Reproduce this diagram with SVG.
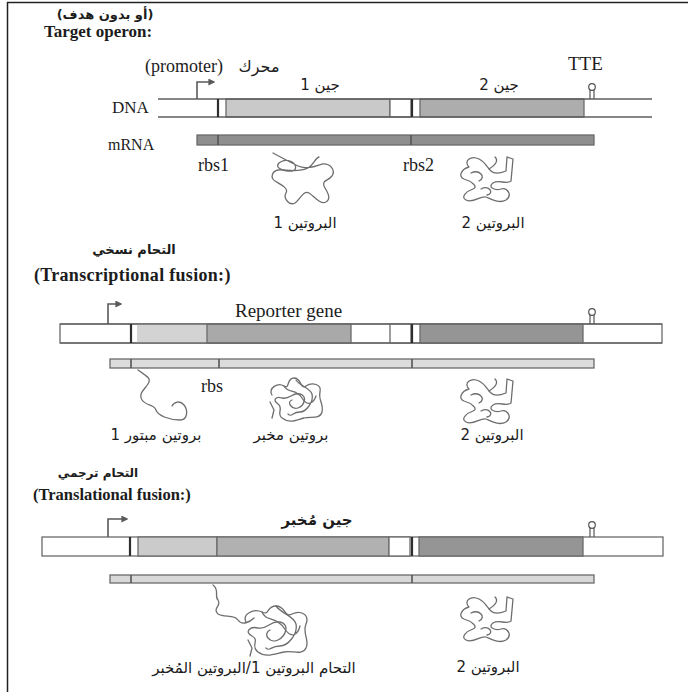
<svg xmlns="http://www.w3.org/2000/svg" xmlns:xlink="http://www.w3.org/1999/xlink" width="688" height="692" viewBox="0 0 688 692">
  <style>
    .lat { font-family: "Liberation Serif", "DejaVu Sans", serif; fill: #1c1c1c; }
    .bold { font-weight: bold; }
    .ar { font-family: "DejaVu Sans", sans-serif; fill: #1c1c1c; direction: rtl; text-anchor: middle; }
    .strand { stroke: #5e5e5e; stroke-width: 1.4; fill: none; }
    .box { stroke: #6a6a6a; stroke-width: 1.3; }
    .bar { stroke: #2e2e2e; stroke-width: 2.2; }
    .seg { stroke: #555; stroke-width: 1.6; }
    .prot { fill: none; stroke: #6e6e6e; stroke-width: 1.3; stroke-linejoin: round; stroke-linecap: round; }
    .prom { fill: none; stroke: #5a5a5a; stroke-width: 1.6; }
    .term { fill: none; stroke: #555; stroke-width: 1.2; }
  </style>
  <defs>
    <marker id="arrowhead" viewBox="0 0 10 10" refX="8" refY="5" markerWidth="7" markerHeight="7" orient="auto" markerUnits="userSpaceOnUse">
      <path d="M0,0 L10,5 L0,10 Z" fill="#5a5a5a"/>
    </marker>
    <!-- hairpin terminator, drawn with its base at (0,0) -->
    <g id="terminator">
      <line class="term" x1="-2" y1="0" x2="-2" y2="-9"/>
      <line class="term" x1="2" y1="0" x2="2" y2="-9"/>
      <circle class="term" cx="0" cy="-12" r="3.3" fill="#fff"/>
    </g>
    <!-- folded protein 2, local origin at its top-left corner -->
    <g id="protein2">
      <path class="prot" d="M10,11 C4,5 12,-1 20,3 C26,6 28,11 32,15 C36,19 42,17 47,15 L48,1 L54,3 L52,25 C47,29 40,23 34,27 C28,31 36,35 42,33 C48,31 54,39 47,44 C40,48 32,43 27,41 C22,39 14,48 7,44 C1,41 8,35 14,33 C20,31 12,25 5,23 C-1,21 2,13 10,11 Z"/>
      <path class="prot" d="M12,17 C20,13 28,21 20,25 M22,33 C30,29 36,37 28,39 M30,13 C36,9 40,5 36,1"/>
    </g>
  </defs>

  <!-- frame -->
  <g id="frame">
    <line x1="7" y1="2.5" x2="688" y2="2.5" stroke="#222" stroke-width="1.5"/>
    <line x1="7.5" y1="2" x2="7.5" y2="692" stroke="#222" stroke-width="1.5"/>
  </g>

  <!-- ===== Target operon ===== -->
  <g id="operon-title">
    <text class="ar bold" x="105" y="19" font-size="13">(أو بدون هدف)</text>
    <text class="lat bold" x="44" y="37" font-size="17">Target operon:</text>
  </g>

  <g id="operon-dna">
    <text class="lat" x="145" y="72" font-size="18">(promoter)</text>
    <text class="ar" x="259" y="72" font-size="16">محرك</text>
    <text class="ar" x="320" y="90" font-size="15">جين 1</text>
    <text class="ar" x="499" y="90" font-size="15">جين 2</text>
    <text class="lat" x="568" y="70" font-size="19">TTE</text>
    <text class="lat" x="112" y="113" font-size="17">DNA</text>
    <rect class="box" x="226" y="99" width="164" height="18" fill="#c9c9c9"/>
    <rect class="box" x="390" y="99" width="21" height="18" fill="#fff"/>
    <rect class="box" x="420" y="99" width="164" height="18" fill="#adadad"/>
    <line class="strand" x1="158" y1="99" x2="652" y2="99"/>
    <line class="strand" x1="158" y1="117" x2="652" y2="117"/>
    <line class="bar" x1="218" y1="99" x2="218" y2="117"/>
    <line class="bar" x1="412" y1="99" x2="412" y2="117"/>
    <use xlink:href="#terminator" href="#terminator" x="592" y="99"/>
  </g>

  <g id="operon-mrna">
    <text class="lat" x="108" y="150" font-size="16">mRNA</text>
    <rect class="box" x="197" y="135" width="397" height="10" fill="#8e8e8e"/>
    <line class="seg" x1="218" y1="135" x2="218" y2="145"/>
    <line class="seg" x1="411" y1="135" x2="411" y2="145"/>
    <text class="lat" x="198" y="171" font-size="18">rbs1</text>
    <text class="lat" x="403" y="171" font-size="18">rbs2</text>
  </g>

  <g id="operon-protein1">
    <path class="prot" d="M273,153 C282,158 290,162 298,166 C306,170 316,166 322,164 C330,163 336,170 332,176 C328,181 322,180 324,186 C327,192 332,198 326,202 C320,205 314,196 309,193 C303,190 300,200 295,203 C289,206 283,198 286,193 C289,188 280,184 275,181 C270,178 272,171 278,170 C284,169 286,172 292,171 C298,170 296,163 290,161 C284,159 276,163 278,167 C280,171 300,172 308,168 C314,165 315,158 319,157"/>
    <text class="ar" x="305" y="228" font-size="15">البروتين 1</text>
  </g>

  <g id="operon-protein2">
    <use xlink:href="#protein2" href="#protein2" x="459" y="156"/>
    <text class="ar" x="493" y="228" font-size="15">البروتين 2</text>
  </g>

  <!-- ===== Transcriptional fusion ===== -->
  <g id="transcriptional-title">
    <text class="ar bold" x="134" y="254" font-size="13">التحام نسخي</text>
    <text class="lat bold" x="34" y="281" font-size="18" letter-spacing="0.3">(Transcriptional fusion:)</text>
  </g>

  <g id="transcriptional-dna">
    <text class="lat" x="235" y="317" font-size="19">Reporter gene</text>
    <rect class="box" x="60" y="324" width="602" height="19" fill="#fff"/>
    <rect x="137" y="324" width="70" height="19" fill="#d3d3d3"/>
    <rect class="box" x="207" y="324" width="144" height="19" fill="#a9a9a9"/>
    <rect class="box" x="390" y="324" width="21" height="19" fill="#fff"/>
    <rect class="box" x="420" y="324" width="163" height="19" fill="#959595"/>
    <line class="box" x1="60" y1="324" x2="662" y2="324" fill="none"/>
    <line class="box" x1="60" y1="343" x2="662" y2="343" fill="none"/>
    <line class="bar" x1="131" y1="324" x2="131" y2="343"/>
    <line class="bar" x1="412" y1="324" x2="412" y2="343"/>
    <use xlink:href="#terminator" href="#terminator" x="592" y="324"/>
  </g>

  <g id="transcriptional-mrna">
    <rect class="box" x="110" y="359" width="484" height="9" fill="#dcdcdc"/>
    <line class="seg" x1="131" y1="359" x2="131" y2="368"/>
    <line class="seg" x1="219" y1="359" x2="219" y2="368"/>
    <line class="seg" x1="412" y1="359" x2="412" y2="368"/>
    <text class="lat" x="201" y="392" font-size="18">rbs</text>
  </g>

  <g id="truncated-protein1">
    <path class="prot" d="M138,370 C146,376 152,378 148,384 C144,390 138,394 142,400 C146,406 154,404 156,410 C158,416 170,420 180,420 C188,420 188,410 184,405 C180,400 174,402 172,406"/>
    <text class="ar" x="156" y="440" font-size="15">بروتين مبتور 1</text>
  </g>

  <g id="reporter-protein">
    <path class="prot" d="M272,395 C268,388 278,382 284,386 C290,390 286,378 294,378 C302,378 300,390 306,386 C312,382 322,384 320,392 C318,400 324,404 322,412 C320,420 310,416 304,418 C296,420 290,424 282,418 C276,414 284,408 278,404 C272,400 276,396 282,398 C290,400 292,392 300,394 C308,396 304,406 298,408 C292,410 286,402 292,400"/>
    <path class="prot" d="M284,386 C288,394 296,388 302,398 C308,408 314,402 316,396 M270,402 L274,410 L272,418 M296,380 C300,386 310,388 312,394 C314,402 306,412 300,412 C292,412 292,418 288,414"/>
    <text class="ar" x="291" y="440" font-size="15">بروتين مخبر</text>
  </g>

  <g id="transcriptional-protein2">
    <use xlink:href="#protein2" href="#protein2" x="459" y="378"/>
    <text class="ar" x="492" y="440" font-size="15">البروتين 2</text>
  </g>

  <!-- ===== Translational fusion ===== -->
  <g id="translational-title">
    <text class="ar bold" x="98" y="477" font-size="12">التحام ترجمي</text>
    <text class="lat bold" x="33" y="500" font-size="16.5">(Translational fusion:)</text>
  </g>

  <g id="translational-dna">
    <text class="ar bold" x="317" y="525" font-size="15">جين مُخبر</text>
    <rect class="box" x="42" y="537" width="621" height="19" fill="#fff"/>
    <rect class="box" x="138" y="537" width="79" height="19" fill="#cbcbcb"/>
    <rect class="box" x="217" y="537" width="172" height="19" fill="#b1b1b1"/>
    <rect class="box" x="389" y="537" width="21" height="19" fill="#fff"/>
    <rect class="box" x="419" y="537" width="164" height="19" fill="#959595"/>
    <line class="bar" x1="130" y1="537" x2="130" y2="556"/>
    <line class="bar" x1="412" y1="537" x2="412" y2="556"/>
    <use xlink:href="#terminator" href="#terminator" x="592" y="537"/>
  </g>

  <g id="translational-mrna">
    <rect class="box" x="110" y="575" width="484" height="8" fill="#d8d8d8"/>
    <line class="seg" x1="131" y1="575" x2="131" y2="583"/>
    <line class="seg" x1="412" y1="575" x2="412" y2="583"/>
  </g>

  <g id="fusion-protein">
    <path class="prot" d="M213,585 C220,590 214,596 218,600 C222,606 212,608 218,614 C224,618 234,614 238,620 C242,626 250,622 254,618"/>
    <path class="prot" d="M246,622 C242,614 254,608 262,612 C270,616 266,606 276,606 C286,606 284,618 292,614 C300,610 310,614 306,624 C302,634 310,640 306,648 C302,656 292,650 284,652 C274,654 266,658 258,652 C250,646 260,640 252,636 C244,632 250,626 258,628 C268,630 270,620 280,622 C290,624 286,636 278,640 C270,644 262,634 270,630"/>
    <path class="prot" d="M262,612 C266,622 276,616 284,628 C292,640 298,634 300,626 M248,640 L252,648 L250,656 M276,606 C282,614 294,616 296,624 C298,634 288,646 280,646 C270,646 270,652 266,648"/>
    <text class="ar" x="254" y="673" font-size="15">التحام البروتين 1/البروتين المُخبر</text>
  </g>

  <g id="translational-protein2">
    <use xlink:href="#protein2" href="#protein2" x="459" y="596"/>
    <text class="ar" x="488" y="672" font-size="15">البروتين 2</text>
  </g>

  <!-- promoter arrows -->
  <g id="connectors">
    <path class="prom" d="M197,99 L197,82 L214,82" marker-end="url(#arrowhead)"/>
    <path class="prom" d="M108,324 L108,304 L121,304" marker-end="url(#arrowhead)"/>
    <path class="prom" d="M108,537 L108,519 L127,519" marker-end="url(#arrowhead)"/>
  </g>
</svg>
